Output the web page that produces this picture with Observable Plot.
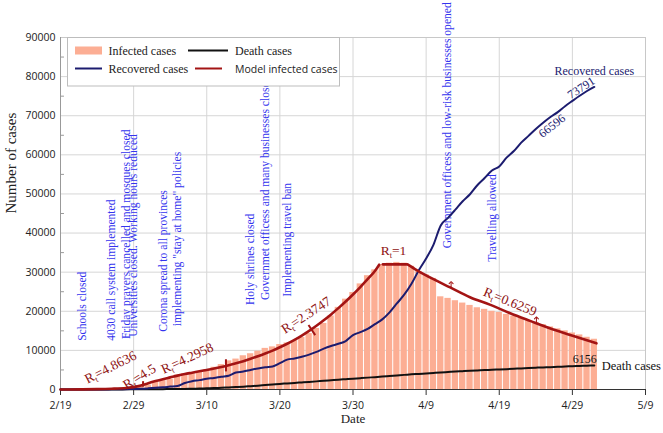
<!DOCTYPE html>
<html><head><meta charset="utf-8">
<script src="https://cdn.jsdelivr.net/npm/d3@7"></script>
<script src="https://cdn.jsdelivr.net/npm/@observablehq/plot@0.6"></script>
<style>body{margin:0;background:#fff} svg{display:block}</style>
</head><body><div id="chart"></div>
<script>
// ---- data (daily, 2020-02-19 .. 2020-05-02) ----
const firstDay = "2020-02-19";
const infected = [0,3,14,23,35,49,79,90,170,281,427,
  749,1144,1824,2278,2667,3710,4009,4238,4530,5020,5687,6370,7321,7779,8624,9142,9792,10516,10900,11500,11900,12500,13300,14300,15600,16900,18800,21000,23100,24800,27000,
  29100,30600,31900,32300,32500,32300,31500,30200,29300,28400,23700,23300,22700,22100,21500,20900,20500,20000,19700,19200,18750,18300,17700,17150,16600,16000,15500,15000,14450,13950,
  13350,12850];
const recovered = [0,0,0,0,0,0,0,49,49,73,123,
  175,291,435,552,739,913,1669,2134,2394,2731,2959,3276,3529,4339,4590,4996,5389,5710,5900,6745,7635,7931,8376,8913,9625,10457,11133,11679,12391,13911,14656,
  15473,16711,17935,19736,22000,24236,27039,30500,33500,37000,41947,43894,45983,48129,49933,52229,54064,55987,57023,59273,60965,63113,64843,66596,68193,69657,70933,72439,73791,75103,
  76318,77350];
const deaths = [2,2,4,5,8,12,16,19,26,34,43,
  54,66,77,92,107,124,145,194,237,291,354,429,514,611,724,853,988,1135,1284,1433,1556,1685,1812,1934,2077,2234,2378,2517,2640,2757,2898,
  3036,3160,3294,3452,3603,3739,3872,3993,4110,4232,4357,4474,4585,4683,4777,4869,4958,5031,5118,5209,5297,5391,5481,5574,5650,5710,5806,5877,5957,6028,
  6091,6156];

// model infected cases (three drawn pieces)
const modelDates = ["2020-02-19","2020-02-22","2020-02-24","2020-02-26","2020-02-28","2020-02-29","2020-03-01","2020-03-02","2020-03-03","2020-03-04","2020-03-05","2020-03-06","2020-03-07","2020-03-08","2020-03-09","2020-03-10","2020-03-11","2020-03-12","2020-03-13","2020-03-14","2020-03-15","2020-03-16","2020-03-17","2020-03-18","2020-03-19","2020-03-20","2020-03-21","2020-03-22","2020-03-23","2020-03-24","2020-03-25","2020-03-26","2020-03-27","2020-03-28","2020-03-29","2020-03-30","2020-03-31","2020-04-01","2020-04-02","2020-04-02T14:00",
  "2020-04-03T02:00","2020-04-06T07:00",
  "2020-04-06T11:00","2020-04-07T17:00","2020-04-10","2020-04-12T07:00","2020-04-15","2020-04-17T17:00","2020-04-20T12:00","2020-04-23T05:00","2020-04-25T22:00","2020-04-28T17:00","2020-05-02T07:00"];
const modelValues = [0,30,90,200,400,600,1000,1600,2150,2650,3100,3550,3950,4300,4650,5000,5350,5750,6200,6700,7250,7850,8500,9200,9950,10800,11700,12700,13800,15000,16300,17700,19200,20800,22500,24300,26200,28200,30300,31900,
  32000,32000,
  32000,30540,28200,26100,23600,21700,19500,17550,15650,13950,11800];
const modelPiece = [...Array(40).fill("growth"), "flat","flat", ...Array(11).fill("decline")];

// R_t change markers on the model curve
const tickDates = ["2020-03-01T07:00","2020-03-12T15:00"];
const tickLow = [600, 4500];
const tickHigh = [2000, 7600];
const slantFrom = ["2020-03-23T22:00", 16500];
const slantTo = ["2020-03-24T20:00", 13900];
const arrowDates = ["2020-04-12T10:00","2020-04-24T02:00"];
const arrowBase = [26000, 17050];
const arrowTop = [27300, 18300];

// R_t labels
const rLabels = ["R_t=4.8636","R_t=4.5","R_t=4.2958","R_t=2.3747","R_t=1","R_t=0.6259"];
const rDates = ["2020-02-25T20:00","2020-02-29T19:00","2020-03-07T08:00","2020-03-23T14:00","2020-04-04T13:00","2020-04-20T12:00"];
const rValues = [5700,3280,8000,19000,35400,22430];
const rAngles = [-27,-32,-25,-33,0,22];

// events
const eventTexts = ["Schools closed","4030 call system implemented","Friday prayers cancelled and mosques closed","Universities closed. Working hours reduced","Corona spread to all provinces","implementing \"stay at home\" policies","Holy shrines closed","Governmet officess and many businesses closed","Implementing travel ban","Government officess and low-risk businesses opened","Travelling allowed"];
const eventDates = ["2020-02-22","2020-02-26","2020-02-28","2020-02-29","2020-03-04","2020-03-06","2020-03-16","2020-03-18","2020-03-21","2020-04-11T21:00","2020-04-18"];
const eventBase = [12440,12440,12880,13470,14750,16200,21580,22860,23700,36100,32670];

// end labels
const endTexts = ["Recovered cases","73791","66596","6156"];
const endDates = ["2020-05-02","2020-04-30T05:00","2020-04-26T05:00","2020-04-30T17:00"];
const endValues = [81500,77100,67400,7760];
const endAngles = [0,-33,-38,0];
const endColors = ["#1c1c6f","#1c1c6f","#1c1c6f","#111"];

const xTickLabels = ["2/19","2/29","3/10","3/20","3/30","4/9","4/19","4/29","5/9"];
const xTickDates = ["2020-02-19","2020-02-29","2020-03-10","2020-03-20","2020-03-30","2020-04-09","2020-04-19","2020-04-29","2020-05-09"];
const yTicks = [0,10000,20000,30000,40000,50000,60000,70000,80000,90000];
const yMinor = [5000,15000,25000,35000,45000,55000,65000,75000,85000];

// ---- build tables ----
const D = s => new Date(s.length === 10 ? s + "T00:00Z" : s + "Z");
const day0 = D(firstDay);
const HALF = 12 * 3600 * 1000;
const table = infected.map((v, i) => ({date: d3.utcDay.offset(day0, i), infected: v, recovered: recovered[i], deaths: deaths[i]}));
const model = modelDates.map((d, i) => ({date: D(d), value: modelValues[i], piece: modelPiece[i]}));
const xt = xTickDates.map(D);
const events = eventTexts.map((t, i) => ({text: t, date: D(eventDates[i]), y: eventBase[i]}));
const rlab = rLabels.map((t, i) => ({text: t, date: D(rDates[i]), y: rValues[i], a: rAngles[i]}));
const ends = endTexts.map((t, i) => ({text: t, date: D(endDates[i]), y: endValues[i], a: endAngles[i], c: endColors[i]}));
const ticks = tickDates.map((d, i) => ({date: D(d), lo: tickLow[i], hi: tickHigh[i]}));
const arrows = arrowDates.map((d, i) => ({date: D(d), lo: arrowBase[i], hi: arrowTop[i]}));

const RED = "#a31414", NAVY = "#1c1c6f", BLUE = "#3434ee", BAR = "#fcae94";
const SERIF = "'Liberation Serif','Times New Roman',serif";

const chart = Plot.plot({
  width: 663, height: 433,
  marginLeft: 60, marginRight: 18, marginTop: 37, marginBottom: 44,
  style: {fontFamily: "'Open Sans',sans-serif", fontSize: "10.5px", background: "white", color: "#222"},
  x: {type: "utc", domain: [xt[0], xt[xt.length - 1]]},
  y: {domain: [0, 90000]},
  marks: [
    Plot.ruleX(xt, {stroke: "#d6d6d6"}),
    Plot.ruleY(yTicks, {stroke: "#d6d6d6"}),
    Plot.frame({stroke: "#c8c8c8"}),
    Plot.rectY(table, {x1: d => new Date(+d.date - HALF), x2: d => new Date(+d.date + HALF), y: "infected", fill: BAR, insetLeft: 0.5, insetRight: 0.5}),
    Plot.ruleX([xt[0]], {stroke: "#999"}),
    Plot.ruleY(yMinor, {x1: xt[0], x2: new Date(+xt[0] + 13 * 3600 * 1000), stroke: "#999"}),
    Plot.ruleY([0], {stroke: "#333"}),
    Plot.axisX({ticks: xt, tickFormat: (d, i) => xTickLabels[i], tickSize: 6, tickPadding: 6, label: null, stroke: "#333"}),
    Plot.axisY({ticks: yTicks, tickFormat: d => String(d), tickSize: 0, tickPadding: 5, label: null}),
    Plot.text(events, {x: "date", y: "y", text: "text", rotate: -90, textAnchor: "start", fill: BLUE, fontFamily: SERIF, fontSize: 11.6}),
    Plot.line(table, {x: "date", y: "deaths", stroke: "#111", strokeWidth: 2, curve: "monotone-x"}),
    Plot.line(table, {x: "date", y: "recovered", stroke: NAVY, strokeWidth: 2, curve: "monotone-x"}),
    Plot.line(model, {x: "date", y: "value", z: "piece", stroke: RED, strokeWidth: 2.6, curve: "monotone-x"}),
    Plot.ruleX(ticks, {x: "date", y1: "lo", y2: "hi", stroke: RED, strokeWidth: 2}),
    Plot.link([0], {x1: () => D(slantFrom[0]), y1: () => slantFrom[1], x2: () => D(slantTo[0]), y2: () => slantTo[1], stroke: RED, strokeWidth: 2}),
    Plot.link(arrows, {x1: "date", y1: "lo", x2: "date", y2: "hi", stroke: RED, strokeWidth: 1, markerEnd: "arrow"}),
    Plot.text(rlab, {x: "date", y: "y", text: "text", rotate: "a", fill: "#8e1212", fontFamily: SERIF, fontSize: 13.5}),
    Plot.text(ends, {x: "date", y: "y", text: "text", rotate: "a", fill: "c", fontFamily: SERIF, fontSize: 12}),
    Plot.text(["Death cases"], {x: () => D("2020-05-03"), y: () => 5970, textAnchor: "start", fill: "#111", fontFamily: SERIF, fontSize: 12.5}),
    Plot.text(["Number of cases"], {frameAnchor: "left", dx: -49, rotate: -90, fill: "#222", fontFamily: SERIF, fontSize: 15}),
    Plot.text(["Date"], {frameAnchor: "bottom", dy: 33, fill: "#222", fontFamily: SERIF, fontSize: 13})
  ]
});

// subscript t in R_t labels
d3.select(chart).selectAll("text").each(function () {
  const s = this.textContent;
  if (/^R_t=/.test(s)) {
    const el = d3.select(this);
    el.text(null);
    el.append("tspan").text("R");
    el.append("tspan").attr("font-size", "0.62em").attr("dy", "3").text("t");
    el.append("tspan").attr("dy", "-3").text(s.slice(3));
  }
});

// legend (overlays the plot, top-left)
const svg = d3.select(chart);
const lg = svg.append("g").attr("text-anchor", "start");
lg.append("rect").attr("x", 67.5).attr("y", 37.5).attr("width", 272).attr("height", 48.5).attr("fill", "white").attr("stroke", "#bdbdbd");
lg.append("rect").attr("x", 75).attr("y", 46.5).attr("width", 27).attr("height", 8).attr("fill", BAR);
lg.append("line").attr("x1", 188).attr("x2", 228).attr("y1", 50.5).attr("y2", 50.5).attr("stroke", "#111").attr("stroke-width", 2);
lg.append("line").attr("x1", 75).attr("x2", 102).attr("y1", 68.5).attr("y2", 68.5).attr("stroke", NAVY).attr("stroke-width", 2);
lg.append("line").attr("x1", 195).attr("x2", 222).attr("y1", 68.5).attr("y2", 68.5).attr("stroke", RED).attr("stroke-width", 2);
const lt = (x, y, t, f, fs) => lg.append("text").attr("x", x).attr("y", y).attr("text-anchor", "start").attr("font-family", f).attr("font-size", fs).attr("fill", "#222").text(t);
lt(108.5, 54.5, "Infected cases", SERIF, 12);
lt(235, 54.5, "Death cases", SERIF, 12);
lt(108.5, 72.5, "Recovered cases", SERIF, 12);
lt(235, 72.5, "Model infected cases", "'Open Sans',sans-serif", 10.5);

document.getElementById("chart").appendChild(chart);
</script>
</body></html>
